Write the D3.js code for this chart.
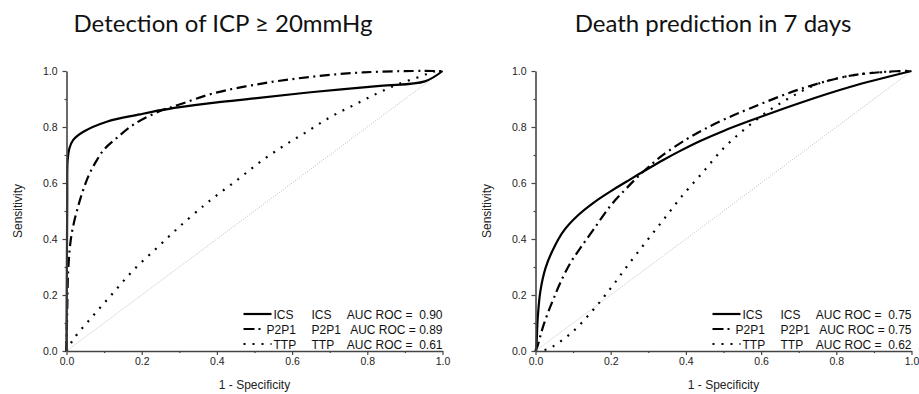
<!DOCTYPE html>
<html>
<head>
<meta charset="utf-8">
<script src="https://cdn.jsdelivr.net/npm/d3@7"></script>
<style>
  body { margin: 0; background: #fff; }
  text { font-family: "Liberation Sans", Arial, sans-serif; }
  .title { font-family: Lato, "Open Sans", sans-serif; }
</style>
</head>
<body>
<svg id="chart" width="919" height="394"></svg>
<script>
// --- data ------------------------------------------------------------
const titles = ["Detection of ICP \u2265 20mmHg", "Death prediction in 7 days"];
const seriesNames = ["ICS", "P2P1", "TTP"];
const aucLeft = ["AUC ROC =  0.90", "AUC ROC = 0.89", "AUC ROC =  0.61"];
const aucRight = ["AUC ROC =  0.75", "AUC ROC = 0.75", "AUC ROC =  0.62"];
const majorTicks = [0, 0.2, 0.4, 0.6, 0.8, 1.0];
const minorTicks = [0.1, 0.3, 0.5, 0.7, 0.9];

// left panel: ICP >= 20mmHg  ([1-specificity, sensitivity])
const icpICS = [[0,0],[0.001,0.3],[0.002,0.55],[0.003,0.68],[0.008,0.725],[0.018,0.754],[0.045,0.783],
  [0.107,0.819],[0.195,0.845],[0.25,0.86],[0.302,0.871],[0.4,0.888],[0.5,0.902],[0.656,0.925],
  [0.834,0.947],[0.953,0.963],[1,1]];
const icpP2P1 = [[0,0],[0.002,0.15],[0.005,0.3],[0.014,0.42],[0.036,0.54],[0.06,0.63],[0.08,0.68],
  [0.1,0.72],[0.133,0.76],[0.18,0.81],[0.249,0.857],[0.302,0.881],[0.39,0.92],[0.523,0.956],
  [0.656,0.98],[0.789,0.995],[0.922,1],[0.975,1],[1,1]];
const icpTTP = [[0,0],[0.02,0.045],[0.07,0.125],[0.123,0.206],[0.178,0.289],[0.241,0.369],[0.302,0.446],
  [0.364,0.518],[0.395,0.551],[0.457,0.614],[0.516,0.676],[0.578,0.733],[0.639,0.783],[0.701,0.835],
  [0.761,0.876],[0.825,0.919],[0.884,0.954],[0.945,0.982],[0.976,0.998],[1,1]];

// right panel: death in 7 days
const deathICS = [[0,0],[0.002,0.012],[0.006,0.119],[0.013,0.214],[0.027,0.298],[0.049,0.369],
  [0.075,0.429],[0.111,0.482],[0.155,0.53],[0.208,0.577],[0.252,0.613],[0.297,0.649],[0.341,0.683],
  [0.381,0.712],[0.438,0.75],[0.5,0.786],[0.57,0.822],[0.703,0.886],[0.836,0.943],[1,1]];
const deathP2P1 = [[0,0],[0.006,0.02],[0.013,0.054],[0.022,0.095],[0.035,0.143],[0.049,0.19],[0.066,0.244],
  [0.093,0.315],[0.12,0.369],[0.155,0.435],[0.199,0.518],[0.239,0.577],[0.279,0.631],[0.314,0.673],
  [0.341,0.702],[0.4,0.755],[0.446,0.79],[0.5,0.826],[0.57,0.866],[0.703,0.935],[0.836,0.983],[0.969,1],[1,1]];
const deathTTP = [[0,0],[0.031,0.006],[0.093,0.062],[0.151,0.143],[0.201,0.226],[0.246,0.307],
  [0.294,0.39],[0.341,0.47],[0.39,0.554],[0.443,0.635],[0.5,0.724],[0.557,0.793],[0.619,0.857],
  [0.681,0.908],[0.743,0.95],[0.81,0.976],[0.871,0.99],[0.97,0.999],[1,1]];

// line styles per series
const styles = {
  ICS:  { dash: null },
  P2P1: { dash: "10,4.5,2,4.5" },
  TTP:  { dash: "2,7" }
};

const svg = d3.select("#chart");

function drawPanel(opts) {
  const { left, right, top, bottom, title, titleX, series, auc } = opts;

  const x = d3.scaleLinear().domain([0, 1]).range([left, right]);
  const y = d3.scaleLinear().domain([0, 1]).range([bottom, top]);
  const g = svg.append("g");

  // title
  g.append("text")
    .attr("class", "title")
    .attr("x", titleX).attr("y", 32)
    .attr("text-anchor", "middle")
    .attr("font-size", 24)
    .attr("fill", "#111")
    .text(title);

  // chance diagonal
  g.append("line")
    .attr("x1", x(0)).attr("y1", y(0))
    .attr("x2", x(1)).attr("y2", y(1))
    .attr("stroke", "#aaa")
    .attr("stroke-width", 0.8)
    .attr("stroke-dasharray", "1,1.5");

  // curves
  const line = d3.line()
    .x(d => x(d[0]))
    .y(d => y(d[1]))
    .curve(d3.curveCatmullRom.alpha(0.5));

  series.forEach(s => {
    g.append("path")
      .datum(s.values)
      .attr("fill", "none")
      .attr("stroke", "#000")
      .attr("stroke-width", 2.2)
      .attr("stroke-dasharray", styles[s.name].dash)
      .attr("d", line);
  });

  // axes
  g.append("g")
    .attr("transform", `translate(0,${bottom})`)
    .call(d3.axisBottom(x).tickValues(majorTicks).tickSize(4).tickSizeOuter(0).tickPadding(3)
      .tickFormat(d3.format(".1f")));
  g.append("g")
    .attr("transform", `translate(0,${bottom})`)
    .call(d3.axisBottom(x).tickValues(minorTicks).tickSize(2).tickFormat(""))
    .select(".domain").remove();

  g.append("g")
    .attr("transform", `translate(${left},0)`)
    .call(d3.axisLeft(y).tickValues(majorTicks).tickSize(4).tickSizeOuter(0).tickPadding(5)
      .tickFormat(d3.format(".1f")));
  g.append("g")
    .attr("transform", `translate(${left},0)`)
    .call(d3.axisLeft(y).tickValues(minorTicks).tickSize(2).tickFormat(""))
    .select(".domain").remove();

  g.selectAll(".domain").attr("stroke", "#444").attr("stroke-width", 1.6);
  g.selectAll(".tick line").attr("stroke", "#444").attr("stroke-width", 1.2);
  g.selectAll(".tick text").attr("font-size", 10.5).attr("fill", "#222")
    .attr("font-family", "'Liberation Sans', Arial, sans-serif");

  // axis titles
  g.append("text")
    .attr("x", (left + right) / 2).attr("y", 389)
    .attr("text-anchor", "middle")
    .attr("font-size", 12).attr("fill", "#222")
    .text("1 - Specificity");
  g.append("text")
    .attr("transform", `translate(${left - 45},${(top + bottom) / 2}) rotate(-90)`)
    .attr("text-anchor", "middle")
    .attr("font-size", 12).attr("fill", "#222")
    .text("Sensitivity");

  // legend
  const rowY = [314, 329, 344];
  seriesNames.forEach((name, i) => {
    const ly = rowY[i];
    g.append("line")
      .attr("x1", right - 199).attr("x2", right - 171)
      .attr("y1", ly).attr("y2", ly)
      .attr("stroke", "#000").attr("stroke-width", 2.2)
      .attr("stroke-dasharray", name === "P2P1" ? "11,4,2,20" : styles[name].dash);
    g.append("text")
      .attr("x", right - (name === "P2P1" ? 176 : 169)).attr("y", ly + 4.5)
      .attr("font-size", 12).attr("fill", "#111")
      .text(name);
    g.append("text")
      .attr("x", right - 131).attr("y", ly + 4.5)
      .attr("font-size", 12).attr("fill", "#111")
      .text(name);
    g.append("text")
      .attr("x", right).attr("y", ly + 4.5)
      .attr("text-anchor", "end")
      .attr("font-size", 12).attr("fill", "#111")
      .style("white-space", "pre")
      .text(auc[i]);
  });
}

drawPanel({
  left: 66.5, right: 442.5, top: 71, bottom: 351,
  title: titles[0], titleX: 223,
  series: [
    { name: "ICS", values: icpICS },
    { name: "P2P1", values: icpP2P1 },
    { name: "TTP", values: icpTTP }
  ],
  auc: aucLeft
});

drawPanel({
  left: 535.5, right: 911.5, top: 71, bottom: 351,
  title: titles[1], titleX: 713,
  series: [
    { name: "ICS", values: deathICS },
    { name: "P2P1", values: deathP2P1 },
    { name: "TTP", values: deathTTP }
  ],
  auc: aucRight
});
</script>
</body>
</html>
